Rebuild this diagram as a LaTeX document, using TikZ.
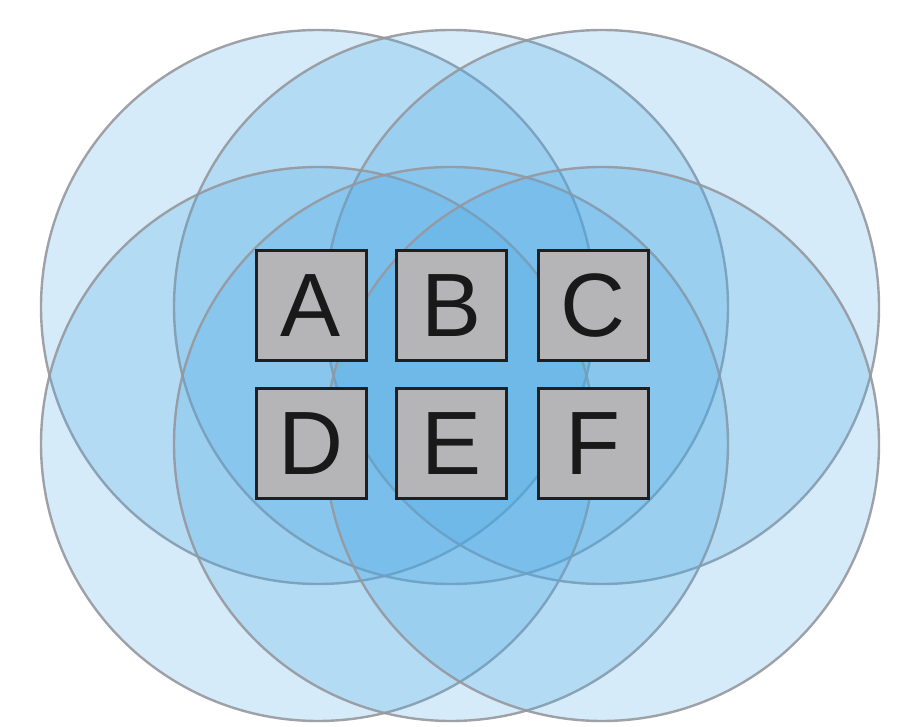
\documentclass[tikz,border=0pt]{standalone}
\usepackage{fontspec}
\setmainfont{Liberation Sans}
\usepackage{xcolor}
\usepackage{tikz}

\definecolor{ringblue}{RGB}{75,168,228}
\definecolor{ringline}{RGB}{150,152,158}
\definecolor{boxgray}{RGB}{181,181,184}

\begin{document}
\begin{tikzpicture}[x=1pt, y=-1pt,
        ring/.style={fill=ringblue, fill opacity=0.235, draw=ringline, draw opacity=0.9, line width=2.4pt},
        letterbox/.style={draw=black!88, fill=boxgray, line width=3pt, minimum size=110pt, inner sep=0pt,
            text=black!90, font=\fontsize{90}{90}\selectfont}]
            \useasboundingbox (0, 0) rectangle (914, 727);

            \draw[ring] (318, 307) circle (277pt); % A
            \draw[ring] (451, 307) circle (277pt); % B
            \draw[ring] (602, 307) circle (277pt); % C
            \draw[ring] (318, 444) circle (277pt); % D
            \draw[ring] (451, 444) circle (277pt); % E
            \draw[ring] (602, 444) circle (277pt); % F

            \node[letterbox] (A) at (311.0, 306) {A};
            \node[letterbox] (B) at (451.5, 306) {B};
            \node[letterbox] (C) at (593.0, 306) {C};
            \node[letterbox] (D) at (311.0, 444) {D};
            \node[letterbox] (E) at (451.5, 444) {E};
            \node[letterbox] (F) at (593.0, 444) {F};
        \end{tikzpicture}
\end{document}
